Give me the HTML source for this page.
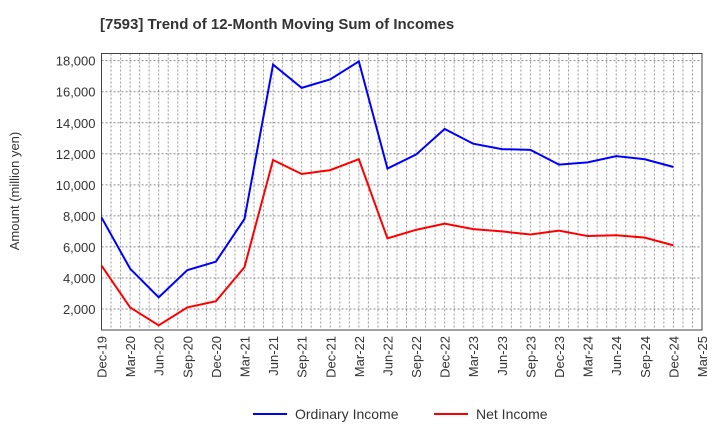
<!DOCTYPE html>
<html><head><meta charset="utf-8"><style>
body{margin:0;background:#fff;font-family:"Liberation Sans",sans-serif}
text{font-family:"Liberation Sans",sans-serif;fill:#333}
</style></head><body>
<svg id="c" width="720" height="440" xmlns="http://www.w3.org/2000/svg">
<text x="100" y="29" font-size="15" font-weight="bold" fill="#333">[7593]  Trend of 12-Month Moving Sum of Incomes</text>
<g id="grid"></g><g id="axes"></g><g id="series"></g>
<g>
<line x1="253" y1="414" x2="287" y2="414" stroke="#0000ff" stroke-width="2"/>
<text x="295" y="419" font-size="14">Ordinary Income</text>
<line x1="434" y1="414" x2="468" y2="414" stroke="#ff0000" stroke-width="2"/>
<text x="476" y="419" font-size="14">Net Income</text>
</g>
<text transform="translate(19,191) rotate(-90)" text-anchor="middle" font-size="13">Amount (million yen)</text>
</svg>
<script>
const categories=["Dec-19","Mar-20","Jun-20","Sep-20","Dec-20","Mar-21","Jun-21","Sep-21","Dec-21","Mar-22","Jun-22","Sep-22","Dec-22","Mar-23","Jun-23","Sep-23","Dec-23","Mar-24","Jun-24","Sep-24","Dec-24","Mar-25"];
const ordinaryIncome=[7900,4600,2750,4500,5050,7800,17750,16250,16800,17950,11050,11950,13600,12650,12300,12250,11300,11450,11850,11650,11150];
const netIncome=[4800,2100,950,2100,2500,4700,11600,10700,10950,11650,6550,7100,7500,7150,7000,6800,7050,6700,6750,6600,6100];
const yTicks=[2000,4000,6000,8000,10000,12000,14000,16000,18000];
const L=101.5,R=702,T=53.5,B=330;
const x=i=>L+i*(R-L)/(categories.length-1);
const y=v=>309-(v-2000)*31.04/2000;
const NS="http://www.w3.org/2000/svg";
function mk(tag,attrs,parent){const e=document.createElementNS(NS,tag);for(const k in attrs)e.setAttribute(k,attrs[k]);parent.appendChild(e);return e;}
const grid=document.getElementById('grid'),axes=document.getElementById('axes'),series=document.getElementById('series');
for(let m=0;m<=(categories.length-1)*3;m++){const xx=L+m*(R-L)/((categories.length-1)*3);
 const g=mk('line',{x1:xx,x2:xx,y1:T,y2:B,stroke:'#999','stroke-dasharray':'2,2','stroke-width':1},grid);
 
 }
yTicks.forEach(v=>{const g=mk('line',{x1:L,x2:R,y1:y(v),y2:y(v),stroke:'#888','stroke-dasharray':'2,2','stroke-width':1},grid);
 
 
 const t=mk('text',{x:L-6,y:y(v)+5,'text-anchor':'end','font-size':13},axes);t.textContent=v.toLocaleString('en-US');
 
 });
categories.forEach((c,i)=>{const t=mk('text',{transform:`translate(${x(i)+5},${B+6}) rotate(-90)`,'text-anchor':'end','font-size':13},axes);t.textContent=c;
 
 });
const fr=mk('rect',{x:L,y:T,width:R-L,height:B-T,fill:'none',stroke:'#444','stroke-width':1},axes);


function line(data,color,name){const p=mk('polyline',{points:data.map((v,i)=>x(i)+','+y(v)).join(' '),fill:'none',stroke:color,'stroke-width':2},series);
 
 }
line(ordinaryIncome,'#0000ff','ordinary-income-line');
line(netIncome,'#ff0000','net-income-line');
</script>
</body></html>
